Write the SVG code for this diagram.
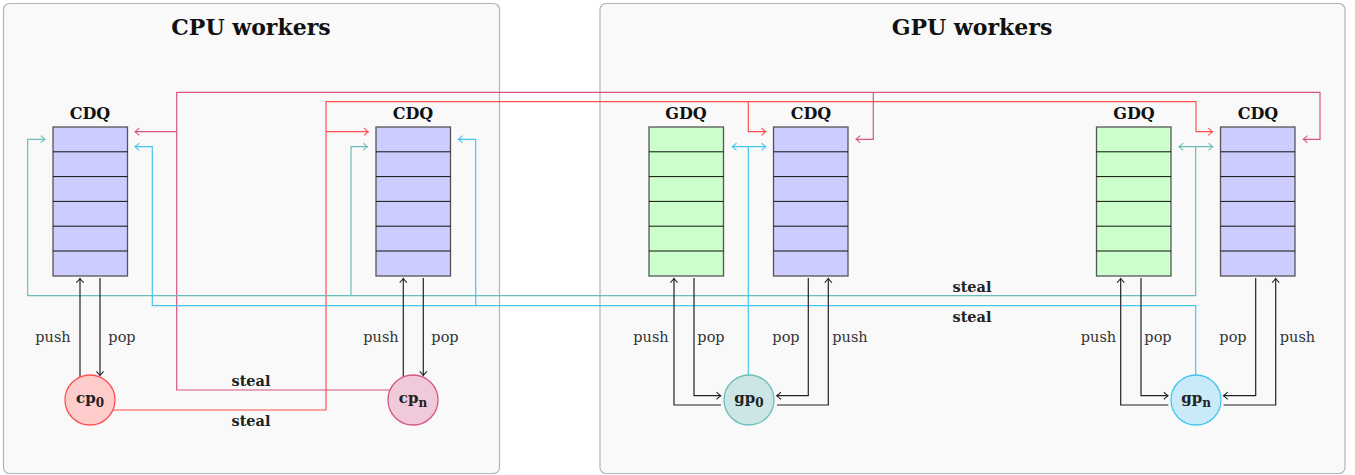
<svg xmlns="http://www.w3.org/2000/svg" width="1355" height="475" viewBox="0 0 1355 475">
<style>
.panel{fill:#f9f9f9;stroke:#b4b4b4;stroke-width:1.2}
.title{font-family:"DejaVu Serif","Liberation Serif",serif;font-weight:bold;font-size:22px;fill:#111;text-anchor:middle}
.qlabel{font-family:"DejaVu Serif","Liberation Serif",serif;font-weight:bold;font-size:16px;fill:#111;text-anchor:middle}
.lbl{font-family:"DejaVu Serif","Liberation Serif",serif;font-size:14.5px;fill:#333;text-anchor:middle}
.steal{font-family:"DejaVu Serif","Liberation Serif",serif;font-weight:bold;font-size:14.5px;fill:#222;text-anchor:middle}
.nlbl{font-family:"DejaVu Serif","Liberation Serif",serif;font-weight:bold;font-size:15px;fill:#222;text-anchor:middle}
.cdq{fill:#ccccff;stroke:#555;stroke-width:1.3}
.gdq{fill:#ccffcc;stroke:#555;stroke-width:1.3}
.cells{fill:none;stroke:#111;stroke-width:1}
.c{fill:none;stroke-width:1.2}
.k{stroke:#222}
.red{stroke:#ff4f4f}
.pink{stroke:#d9557f}
.teal{stroke:#6dbcbc}
.cyan{stroke:#44c6f0}
</style>
<defs>
<marker id="ak" viewBox="-5 -5 6 10" markerWidth="6" markerHeight="10" refX="0" refY="0" orient="auto-start-reverse" markerUnits="userSpaceOnUse" overflow="visible"><path d="M-4.2,-3.6 Q-1.5,-1 0,0 Q-1.5,1 -4.2,3.6" fill="none" stroke="#222" stroke-width="1.1"/></marker>
<marker id="ar" viewBox="-5 -5 6 10" markerWidth="6" markerHeight="10" refX="0" refY="0" orient="auto-start-reverse" markerUnits="userSpaceOnUse" overflow="visible"><path d="M-4.2,-3.6 Q-1.5,-1 0,0 Q-1.5,1 -4.2,3.6" fill="none" stroke="#ff4f4f" stroke-width="1.1"/></marker>
<marker id="ap" viewBox="-5 -5 6 10" markerWidth="6" markerHeight="10" refX="0" refY="0" orient="auto-start-reverse" markerUnits="userSpaceOnUse" overflow="visible"><path d="M-4.2,-3.6 Q-1.5,-1 0,0 Q-1.5,1 -4.2,3.6" fill="none" stroke="#d9557f" stroke-width="1.1"/></marker>
<marker id="at" viewBox="-5 -5 6 10" markerWidth="6" markerHeight="10" refX="0" refY="0" orient="auto-start-reverse" markerUnits="userSpaceOnUse" overflow="visible"><path d="M-4.2,-3.6 Q-1.5,-1 0,0 Q-1.5,1 -4.2,3.6" fill="none" stroke="#6dbcbc" stroke-width="1.1"/></marker>
<marker id="ac" viewBox="-5 -5 6 10" markerWidth="6" markerHeight="10" refX="0" refY="0" orient="auto-start-reverse" markerUnits="userSpaceOnUse" overflow="visible"><path d="M-4.2,-3.6 Q-1.5,-1 0,0 Q-1.5,1 -4.2,3.6" fill="none" stroke="#44c6f0" stroke-width="1.1"/></marker>
<path id="cellLines" d="M0,24.8 h74.5 M0,49.6 h74.5 M0,74.4 h74.5 M0,99.2 h74.5 M0,124 h74.5"/>
</defs>

<g id="panel-cpu">
<rect class="panel" x="3.5" y="3.5" width="496" height="470" rx="6"/>
<text class="title" x="251" y="35">CPU workers</text>
</g>
<g id="panel-gpu">
<rect class="panel" x="600" y="3.5" width="745" height="470" rx="6"/>
<text class="title" x="972" y="35">GPU workers</text>
</g>

<g id="connectors">
<!-- red: cp0 steal -->
<path class="c red" d="M113,410 H326 V101.7 H1196 V131.7 H1212.5" marker-end="url(#ar)"/>
<path class="c red" d="M326,131.7 H368.3" marker-end="url(#ar)"/>
<path class="c red" d="M748.3,101.7 V131.7 H765.7" marker-end="url(#ar)"/>
<!-- pink: cpn steal -->
<path class="c pink" d="M390,390 H176.7 V92.3 H1320 V139.3 H1303.3" marker-end="url(#ap)"/>
<path class="c pink" d="M176.7,131.7 H135" marker-end="url(#ap)"/>
<path class="c pink" d="M873.3,92.3 V139.3 H856" marker-end="url(#ap)"/>
<!-- teal -->
<path class="c teal" d="M1195.7,146.7 V295.7 H27.7 V139.3 H45" marker-end="url(#at)"/>
<path class="c teal" d="M351,295.7 V146.7 H367.3" marker-end="url(#at)"/>
<path class="c teal" d="M1179,146.7 H1212.7" marker-start="url(#at)" marker-end="url(#at)"/>
<!-- cyan -->
<path class="c cyan" d="M748.3,375 V146.7"/>
<path class="c cyan" d="M732.3,146.7 H765.7" marker-start="url(#ac)" marker-end="url(#ac)"/>
<path class="c cyan" d="M1195.7,375 V305.7 H152.3 V146.7 H135" marker-end="url(#ac)"/>
<path class="c cyan" d="M475.7,305.7 V139.3 H458.3" marker-end="url(#ac)"/>
<!-- push / pop cp0 -->
<path class="c k" d="M80,377 V278.5" marker-end="url(#ak)"/>
<path class="c k" d="M100,278 V375.5" marker-end="url(#ak)"/>
<!-- push / pop cpn -->
<path class="c k" d="M403.3,377 V278.5" marker-end="url(#ak)"/>
<path class="c k" d="M423.3,278 V375.5" marker-end="url(#ak)"/>
<!-- gp0 -->
<path class="c k" d="M721,405 H674 V278.5" marker-end="url(#ak)"/>
<path class="c k" d="M694,278 V395.7 H720.7" marker-end="url(#ak)"/>
<path class="c k" d="M808.3,278 V395.7 H776.7" marker-end="url(#ak)"/>
<path class="c k" d="M777,405 H828.3 V278.5" marker-end="url(#ak)"/>
<!-- gpn -->
<path class="c k" d="M1168.3,405 H1120.7 V278.5" marker-end="url(#ak)"/>
<path class="c k" d="M1141,278 V395.7 H1168" marker-end="url(#ak)"/>
<path class="c k" d="M1255.7,278 V395.7 H1223.5" marker-end="url(#ak)"/>
<path class="c k" d="M1223.5,405 H1275.7 V278.5" marker-end="url(#ak)"/>
</g>

<g id="labels">
<text class="lbl" x="53" y="341.5">push</text>
<text class="lbl" x="122" y="341.5">pop</text>
<text class="lbl" x="381" y="341.5">push</text>
<text class="lbl" x="445" y="341.5">pop</text>
<text class="lbl" x="651" y="341.5">push</text>
<text class="lbl" x="711" y="341.5">pop</text>
<text class="lbl" x="786" y="341.5">pop</text>
<text class="lbl" x="850" y="341.5">push</text>
<text class="lbl" x="1098.5" y="341.5">push</text>
<text class="lbl" x="1158" y="341.5">pop</text>
<text class="lbl" x="1233" y="341.5">pop</text>
<text class="lbl" x="1297.5" y="341.5">push</text>
<text class="steal" x="251" y="385.5">steal</text>
<text class="steal" x="251" y="425.5">steal</text>
<text class="steal" x="972" y="291.5">steal</text>
<text class="steal" x="972" y="321.5">steal</text>
</g>

<g id="cdq-cp0">
<rect class="cdq" x="53" y="127" width="74.5" height="149"/>
<use href="#cellLines" class="cells" x="53" y="127"/>
<text class="qlabel" x="90" y="118.5">CDQ</text>
</g>
<g id="cdq-cpn">
<rect class="cdq" x="376" y="127" width="74.5" height="149"/>
<use href="#cellLines" class="cells" x="376" y="127"/>
<text class="qlabel" x="413" y="118.5">CDQ</text>
</g>
<g id="gdq-gp0">
<rect class="gdq" x="649" y="127" width="74.5" height="149"/>
<use href="#cellLines" class="cells" x="649" y="127"/>
<text class="qlabel" x="686" y="118.5">GDQ</text>
</g>
<g id="cdq-gp0">
<rect class="cdq" x="773.5" y="127" width="74.5" height="149"/>
<use href="#cellLines" class="cells" x="773.5" y="127"/>
<text class="qlabel" x="811" y="118.5">CDQ</text>
</g>
<g id="gdq-gpn">
<rect class="gdq" x="1096.5" y="127" width="74.5" height="149"/>
<use href="#cellLines" class="cells" x="1096.5" y="127"/>
<text class="qlabel" x="1134" y="118.5">GDQ</text>
</g>
<g id="cdq-gpn">
<rect class="cdq" x="1220.5" y="127" width="74.5" height="149"/>
<use href="#cellLines" class="cells" x="1220.5" y="127"/>
<text class="qlabel" x="1258" y="118.5">CDQ</text>
</g>

<g id="node-cp0">
<circle cx="90" cy="400" r="25" fill="#ffcccc" stroke="#ff4f4f" stroke-width="1.3"/>
<text class="nlbl" x="90" y="403">cp<tspan font-size="12" dy="4">0</tspan></text>
</g>
<g id="node-cpn">
<circle cx="413" cy="400" r="25" fill="#f0cadb" stroke="#d9557f" stroke-width="1.3"/>
<text class="nlbl" x="413" y="403">cp<tspan font-size="12" dy="4">n</tspan></text>
</g>
<g id="node-gp0">
<circle cx="749" cy="400" r="25" fill="#cce6e6" stroke="#6dbcbc" stroke-width="1.3"/>
<text class="nlbl" x="749" y="403">gp<tspan font-size="12" dy="4">0</tspan></text>
</g>
<g id="node-gpn">
<circle cx="1196" cy="400" r="25" fill="#c8eaf9" stroke="#44c6f0" stroke-width="1.3"/>
<text class="nlbl" x="1196" y="403">gp<tspan font-size="12" dy="4">n</tspan></text>
</g>
</svg>
